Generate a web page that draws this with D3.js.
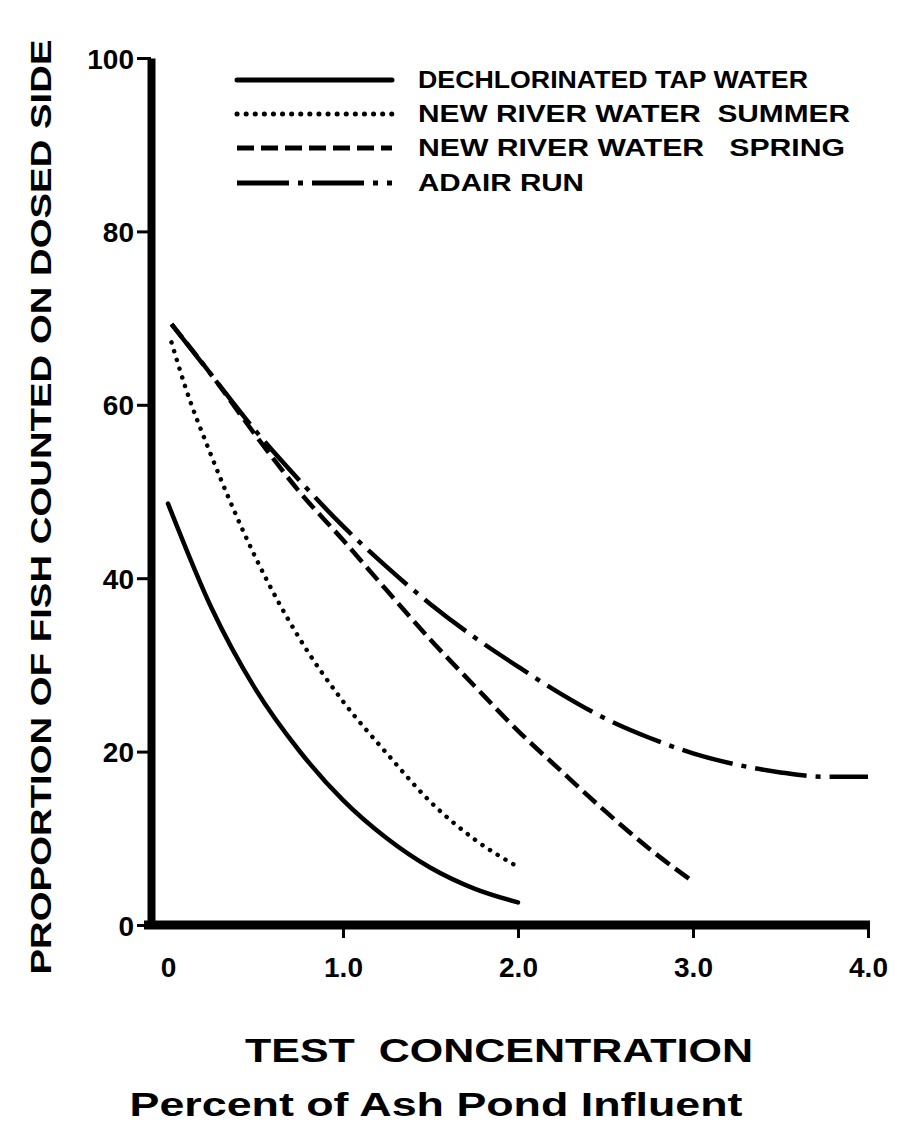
<!DOCTYPE html>
<html>
<head>
<meta charset="utf-8">
<script src="https://cdn.jsdelivr.net/npm/d3@7"></script>
<style>
  body { margin: 0; background: #fff; }
  text { font-family: "Liberation Sans", Arial, Helvetica, sans-serif; font-weight: bold; fill: #000; }
</style>
</head>
<body>
<div id="chart"></div>
<script>
// values (x = % ash pond influent, y = % fish on dosed side)
var tapX    = [0, 0.25, 0.5, 0.75, 1.0, 1.25, 1.5, 1.75, 2.0];
var tapY    = [48.6, 36.5, 27.2, 20.1, 14.4, 10.0, 6.6, 4.2, 2.6];
var summerX = [0.02, 0.1, 0.25, 0.5, 0.75, 1.0, 1.25, 1.5, 1.75, 2.0];
var summerY = [67.2, 62.0, 54.0, 42.4, 33.1, 25.8, 19.8, 14.2, 9.9, 6.7];
var springX = [0.02, 0.25, 0.5, 0.75, 1.0, 1.25, 1.5, 1.75, 2.0, 2.25, 2.5, 2.75, 3.0];
var springY = [69.3, 63.4, 56.5, 50.0, 44.4, 38.6, 32.9, 27.6, 22.4, 17.7, 13.1, 8.8, 5.0];
var adairX  = [0.02, 0.25, 0.5, 0.75, 1.0, 1.25, 1.5, 1.75, 2.0, 2.25, 2.5, 2.75, 3.0, 3.25, 3.5, 3.75, 4.0];
var adairY  = [69.3, 63.4, 57.0, 51.3, 46.0, 41.3, 37.0, 33.2, 29.8, 26.6, 23.8, 21.6, 19.8, 18.5, 17.6, 17.1, 17.1];

var seriesNames = ["DECHLORINATED TAP WATER", "NEW RIVER WATER  SUMMER", "NEW RIVER WATER   SPRING", "ADAIR RUN"];
var xTicks = [0, 1, 2, 3, 4];
var yTicks = [0, 20, 40, 60, 80, 100];

var width = 897, height = 1133;

var svg = d3.select("#chart")
  .append("svg")
    .attr("width", width)
    .attr("height", height);

var x = d3.scaleLinear().domain([0, 4]).range([168, 868]);
var y = d3.scaleLinear().domain([0, 100]).range([925, 58]);

// dash styles per series
var dashes = ["none", "0.1,9", "17,7", "52,9,5,9"];
var caps = ["round", "round", "butt", "butt"];
var widths = [4.5, 4.5, 4.5, 4.5];

var series = [
  d3.zip(tapX, tapY),
  d3.zip(summerX, summerY),
  d3.zip(springX, springY),
  d3.zip(adairX, adairY)
];

// y axis
var yAxis = svg.append("g")
    .attr("transform", "translate(151,0)")
    .call(d3.axisLeft(y).tickValues(yTicks).tickSize(14).tickSizeOuter(0).tickPadding(3).tickFormat(d3.format("d")));
yAxis.select(".domain").attr("stroke-width", 8).attr("stroke", "#000");
yAxis.selectAll(".tick line").attr("stroke-width", 3).attr("stroke", "#000");
yAxis.selectAll(".tick text").attr("font-size", 28).attr("fill", "#000").attr("dy", "0.36em");

// x axis
var xAxis = svg.append("g")
    .attr("transform", "translate(0," + y(0) + ")")
    .call(d3.axisBottom(x).tickValues(xTicks).tickSize(13).tickPadding(19)
      .tickFormat(function(d){ return d === 0 ? "0" : d3.format(".1f")(d); }));
xAxis.select(".domain").remove();
xAxis.selectAll(".tick line").attr("stroke-width", 3).attr("stroke", "#000")
  .filter(function(d){ return d === 0; }).remove();
xAxis.selectAll(".tick text").attr("font-size", 28).attr("fill", "#000");
xAxis.append("line")
    .attr("x1", x(0) - 24).attr("x2", x(4) + 2)
    .attr("y1", 0).attr("y2", 0)
    .attr("stroke", "#000").attr("stroke-width", 9);

// curves
var line = d3.line()
  .x(function(d){ return x(d[0]); })
  .y(function(d){ return y(d[1]); })
  .curve(d3.curveMonotoneX);

svg.append("g")
  .selectAll("path")
  .data(series)
  .join("path")
    .attr("d", line)
    .attr("fill", "none")
    .attr("stroke", "#000")
    .attr("stroke-width", function(d, i){ return widths[i]; })
    .attr("stroke-dasharray", function(d, i){ return dashes[i]; })
    .attr("stroke-linecap", function(d, i){ return caps[i]; });

// legend
var legendY = [80, 114, 148, 183];
var legendW = [390, 432, 427, 166];
var legend = svg.append("g");
legend.selectAll("line")
  .data(seriesNames)
  .join("line")
    .attr("x1", 237).attr("x2", 392)
    .attr("y1", function(d, i){ return legendY[i]; })
    .attr("y2", function(d, i){ return legendY[i]; })
    .attr("stroke", "#000")
    .attr("stroke-width", 5)
    .attr("stroke-dasharray", function(d, i){ return dashes[i]; })
    .attr("stroke-linecap", function(d, i){ return caps[i]; });
legend.selectAll("text")
  .data(seriesNames)
  .join("text")
    .attr("x", 418)
    .attr("y", function(d, i){ return legendY[i] + 8; })
    .attr("font-size", 24)
    .attr("textLength", function(d, i){ return legendW[i]; })
    .attr("lengthAdjust", "spacingAndGlyphs")
    .style("white-space", "pre")
    .text(function(d){ return d; });

// axis titles
svg.append("text")
    .attr("transform", "translate(51,507) rotate(-90)")
    .attr("text-anchor", "middle")
    .attr("font-size", 29)
    .attr("textLength", 935)
    .attr("lengthAdjust", "spacingAndGlyphs")
    .text("PROPORTION OF FISH COUNTED ON DOSED SIDE");

svg.append("text")
    .attr("x", 499).attr("y", 1062)
    .attr("text-anchor", "middle")
    .attr("font-size", 34)
    .attr("textLength", 508)
    .attr("lengthAdjust", "spacingAndGlyphs")
    .style("white-space", "pre")
    .text("TEST  CONCENTRATION");

svg.append("text")
    .attr("x", 436).attr("y", 1116)
    .attr("text-anchor", "middle")
    .attr("font-size", 33)
    .attr("textLength", 613)
    .attr("lengthAdjust", "spacingAndGlyphs")
    .text("Percent of Ash Pond Influent");
</script>
</body>
</html>
